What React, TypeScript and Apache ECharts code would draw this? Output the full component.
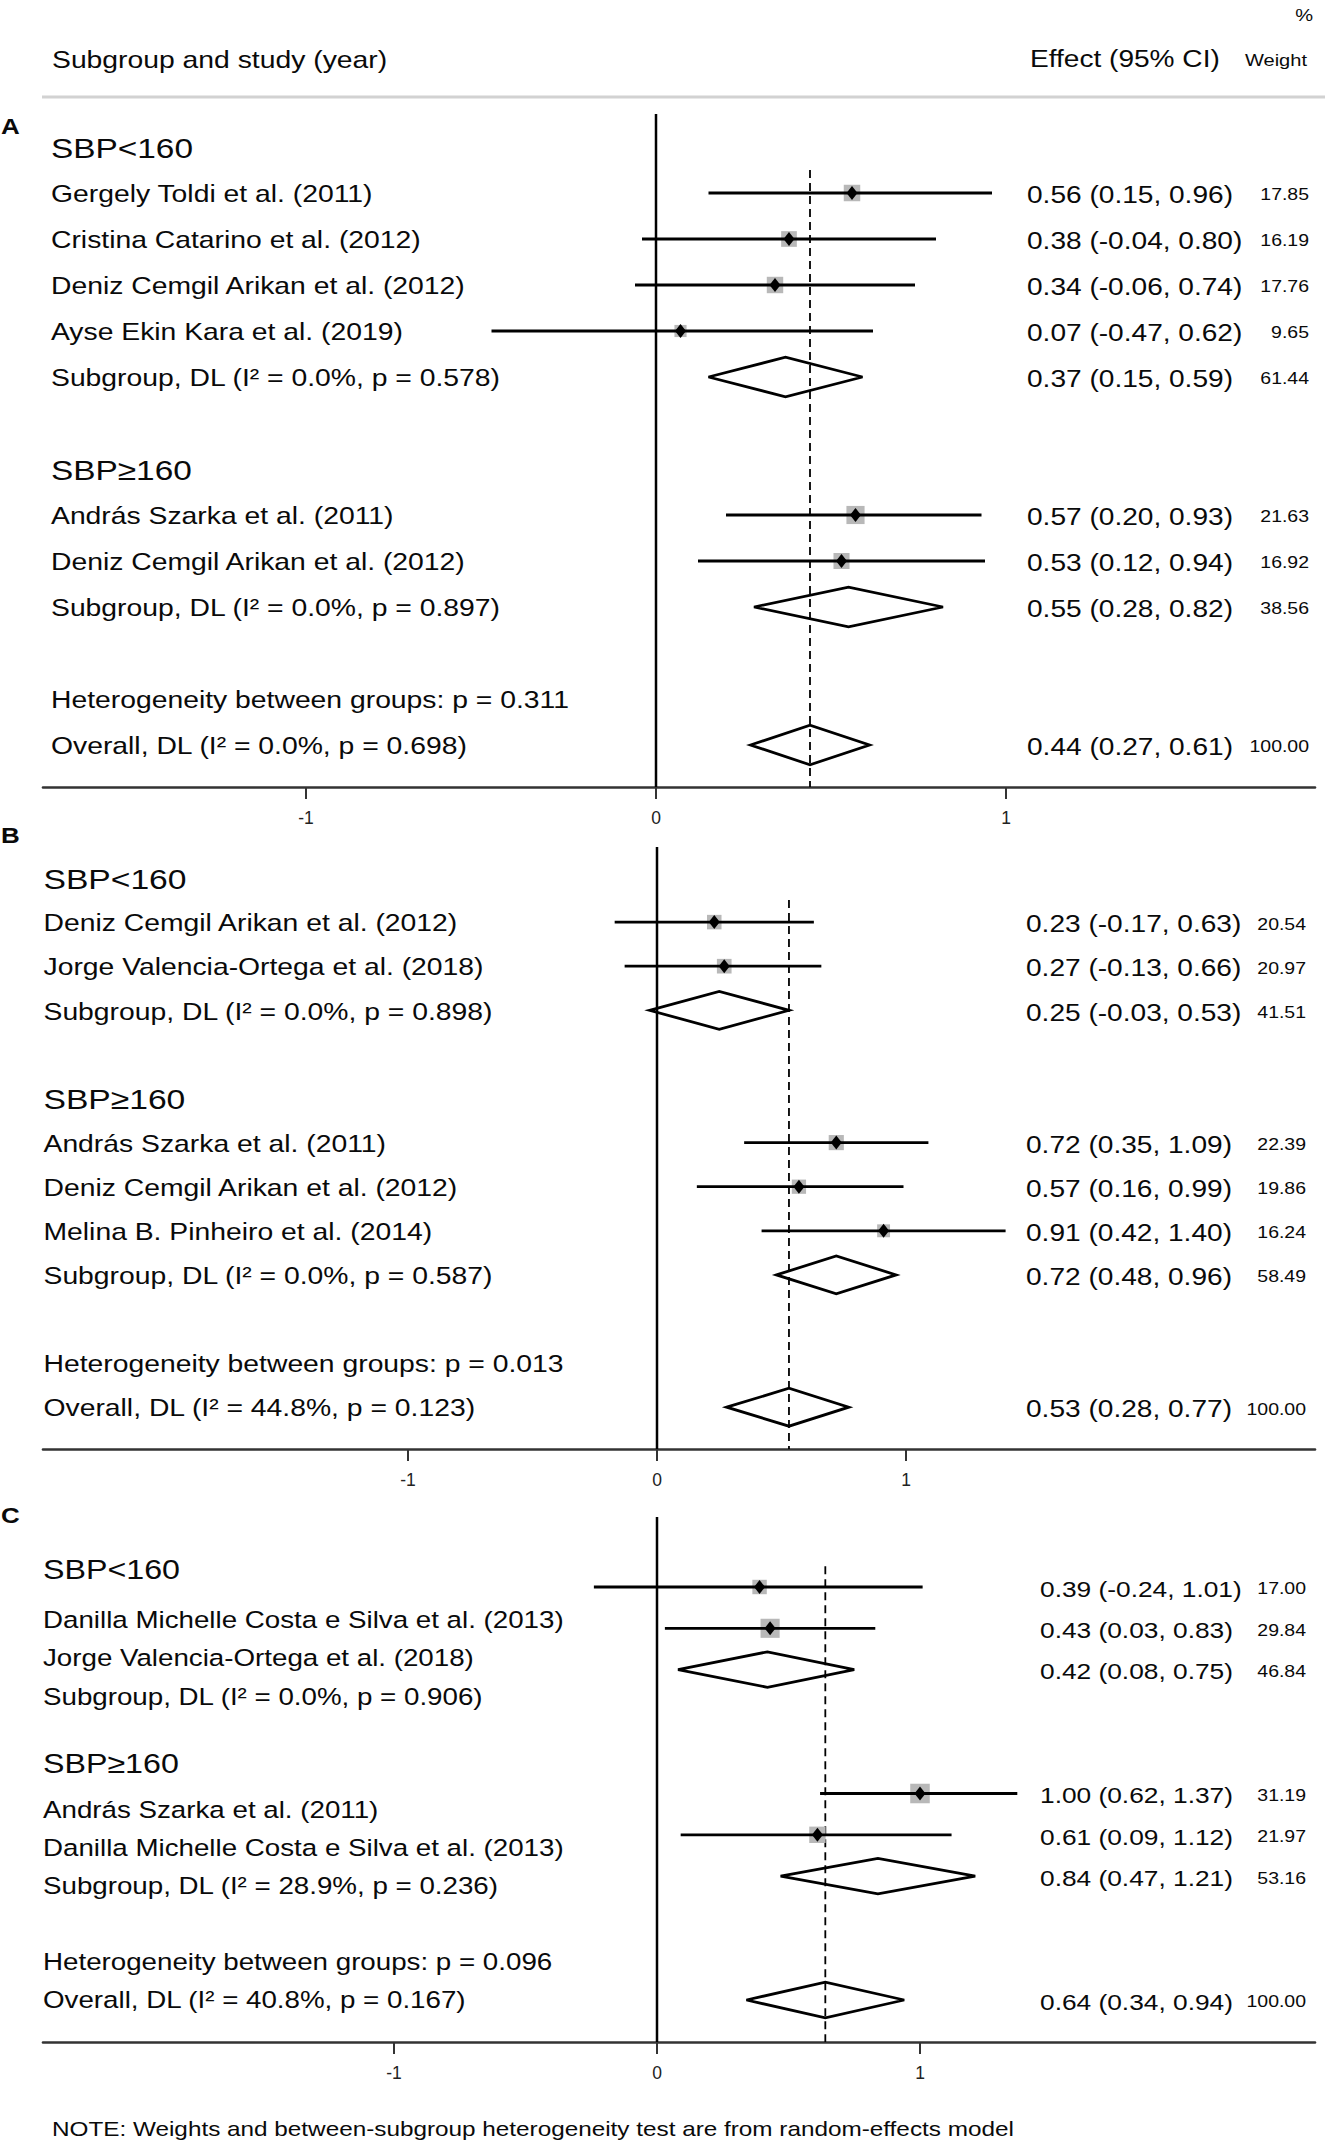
import React, { useEffect, useRef } from "react";
import * as echarts from "echarts";

// ---------------- DATA ----------------
const subgroupHeaders = ["SBP<160", "SBP≥160"];
const xTicks = [-1, 0, 1];

// Panel A
const studiesA1 = ["Gergely Toldi et al. (2011)", "Cristina Catarino et al. (2012)", "Deniz Cemgil Arikan et al. (2012)", "Ayse Ekin Kara et al. (2019)"];
const effectA1 = [0.56, 0.38, 0.34, 0.07];
const lowerA1 = [0.15, -0.04, -0.06, -0.47];
const upperA1 = [0.96, 0.8, 0.74, 0.62];
const weightA1 = [17.85, 16.19, 17.76, 9.65];
const studiesA2 = ["András Szarka et al. (2011)", "Deniz Cemgil Arikan et al. (2012)"];
const effectA2 = [0.57, 0.53];
const lowerA2 = [0.2, 0.12];
const upperA2 = [0.93, 0.94];
const weightA2 = [21.63, 16.92];
const pooledLabelsA = ["Subgroup, DL (I² = 0.0%, p = 0.578)", "Subgroup, DL (I² = 0.0%, p = 0.897)", "Overall, DL (I² = 0.0%, p = 0.698)"];
const pooledEffectA = [0.37, 0.55, 0.44];
const pooledLowerA = [0.15, 0.28, 0.27];
const pooledUpperA = [0.59, 0.82, 0.61];
const pooledWeightA = [61.44, 38.56, 100.0];
const heterogeneityA = "Heterogeneity between groups: p = 0.311";

// Panel B
const studiesB1 = ["Deniz Cemgil Arikan et al. (2012)", "Jorge Valencia-Ortega et al. (2018)"];
const effectB1 = [0.23, 0.27];
const lowerB1 = [-0.17, -0.13];
const upperB1 = [0.63, 0.66];
const weightB1 = [20.54, 20.97];
const studiesB2 = ["András Szarka et al. (2011)", "Deniz Cemgil Arikan et al. (2012)", "Melina B. Pinheiro et al. (2014)"];
const effectB2 = [0.72, 0.57, 0.91];
const lowerB2 = [0.35, 0.16, 0.42];
const upperB2 = [1.09, 0.99, 1.4];
const weightB2 = [22.39, 19.86, 16.24];
const pooledLabelsB = ["Subgroup, DL (I² = 0.0%, p = 0.898)", "Subgroup, DL (I² = 0.0%, p = 0.587)", "Overall, DL (I² = 44.8%, p = 0.123)"];
const pooledEffectB = [0.25, 0.72, 0.53];
const pooledLowerB = [-0.03, 0.48, 0.28];
const pooledUpperB = [0.53, 0.96, 0.77];
const pooledWeightB = [41.51, 58.49, 100.0];
const heterogeneityB = "Heterogeneity between groups: p = 0.013";

// Panel C
const studiesC1 = ["Danilla Michelle Costa e Silva et al. (2013)", "Jorge Valencia-Ortega et al. (2018)"];
const effectC1 = [0.39, 0.43];
const lowerC1 = [-0.24, 0.03];
const upperC1 = [1.01, 0.83];
const weightC1 = [17.0, 29.84];
const studiesC2 = ["András Szarka et al. (2011)", "Danilla Michelle Costa e Silva et al. (2013)"];
const effectC2 = [1.0, 0.61];
const lowerC2 = [0.62, 0.09];
const upperC2 = [1.37, 1.12];
const weightC2 = [31.19, 21.97];
const pooledLabelsC = ["Subgroup, DL (I² = 0.0%, p = 0.906)", "Subgroup, DL (I² = 28.9%, p = 0.236)", "Overall, DL (I² = 40.8%, p = 0.167)"];
const pooledEffectC = [0.42, 0.84, 0.64];
const pooledLowerC = [0.08, 0.47, 0.34];
const pooledUpperC = [0.75, 1.21, 0.94];
const pooledWeightC = [46.84, 53.16, 100.0];
const heterogeneityC = "Heterogeneity between groups: p = 0.096";

const noteText = "NOTE: Weights and between-subgroup heterogeneity test are from random-effects model";

// ---------------- LAYOUT / STYLE ----------------
const FONT = "'Liberation Sans', Arial, Helvetica, sans-serif";
const SX = 1.18; // horizontal stretch of the source figure's lettering
const INK = "#0a0a0a";
const GRID_LEFT = 43;
const GRID_RIGHT = 1315;
const LINE_W = 2.8;

const layouts = [
  { letter: "A", letterY: 126, top: 114, bottom: 787, rowY0: 147, rowStep: 46, zeroX: 656, unitX: 350, labelX: 51, labelFont: 24, headFont: 28.3, effX: 1027, effFont: 23.8, wX: 1309, boxK: 3.9, labelSlots: null as number[] | null },
  { letter: "B", letterY: 835, top: 847, bottom: 1449, rowY0: 878, rowStep: 44.1, zeroX: 657, unitX: 249, labelX: 43.5, labelFont: 24, headFont: 28.5, effX: 1026, effFont: 23.8, wX: 1306, boxK: 3.2, labelSlots: null as number[] | null },
  { letter: "C", letterY: 1515, top: 1517, bottom: 2042, rowY0: 1545.7, rowStep: 41.3, zeroX: 657, unitX: 263, labelX: 43, labelFont: 23.5, headFont: 27.3, effX: 1040, effFont: 22.3, wX: 1306, boxK: 3.5, labelSlots: [0.56, 1.77, 2.69, 3.64, 5.24, 6.38, 7.3, 8.22, 10.04, 10.98] as number[] | null },
];

const panelsData = [
  { s1: studiesA1, e1: effectA1, l1: lowerA1, u1: upperA1, w1: weightA1, s2: studiesA2, e2: effectA2, l2: lowerA2, u2: upperA2, w2: weightA2, pl: pooledLabelsA, pe: pooledEffectA, plo: pooledLowerA, pu: pooledUpperA, pw: pooledWeightA, het: heterogeneityA },
  { s1: studiesB1, e1: effectB1, l1: lowerB1, u1: upperB1, w1: weightB1, s2: studiesB2, e2: effectB2, l2: lowerB2, u2: upperB2, w2: weightB2, pl: pooledLabelsB, pe: pooledEffectB, plo: pooledLowerB, pu: pooledUpperB, pw: pooledWeightB, het: heterogeneityB },
  { s1: studiesC1, e1: effectC1, l1: lowerC1, u1: upperC1, w1: weightC1, s2: studiesC2, e2: effectC2, l2: lowerC2, u2: upperC2, w2: weightC2, pl: pooledLabelsC, pe: pooledEffectC, plo: pooledLowerC, pu: pooledUpperC, pw: pooledWeightC, het: heterogeneityC },
];

type Row = { kind: "header" | "study" | "pooled" | "het"; label: string; eff?: number; lo?: number; hi?: number; w?: number; slot: number };

function buildRows(d: any): Row[] {
  const rows: Row[] = [];
  let slot = 0;
  const groups = [
    { s: d.s1, e: d.e1, l: d.l1, u: d.u1, w: d.w1 },
    { s: d.s2, e: d.e2, l: d.l2, u: d.u2, w: d.w2 },
  ];
  groups.forEach((g, gi) => {
    rows.push({ kind: "header", label: subgroupHeaders[gi], slot: slot++ });
    g.s.forEach((name: string, i: number) => {
      rows.push({ kind: "study", label: name, eff: g.e[i], lo: g.l[i], hi: g.u[i], w: g.w[i], slot: slot++ });
    });
    rows.push({ kind: "pooled", label: d.pl[gi], eff: d.pe[gi], lo: d.plo[gi], hi: d.pu[gi], w: d.pw[gi], slot: slot++ });
    slot++; // blank line
  });
  rows.push({ kind: "het", label: d.het, slot: slot++ });
  rows.push({ kind: "pooled", label: d.pl[2], eff: d.pe[2], lo: d.plo[2], hi: d.pu[2], w: d.pw[2], slot: slot++ });
  return rows;
}

const f2 = (v: number) => v.toFixed(2);

function buildOption() {
  const grid: any[] = [];
  const xAxis: any[] = [];
  const yAxis: any[] = [];
  const series: any[] = [];

  layouts.forEach((L, pi) => {
    const d = panelsData[pi];
    const rows = buildRows(d);
    const overall = d.pe[2];

    grid.push({ left: GRID_LEFT, width: GRID_RIGHT - GRID_LEFT, top: L.top, height: L.bottom - L.top });
    xAxis.push({
      type: "value",
      gridIndex: pi,
      position: "bottom",
      min: (GRID_LEFT - L.zeroX) / L.unitX,
      max: (GRID_RIGHT - L.zeroX) / L.unitX,
      splitLine: { show: false },
      axisLine: { show: true, onZero: false, lineStyle: { color: "#333", width: 2.6 } },
      axisTick: { show: true, customValues: xTicks, length: 12, lineStyle: { color: "#333", width: 2 } },
      axisLabel: { show: true, customValues: xTicks, margin: 22, fontSize: 17.5, color: "#222", fontFamily: FONT, formatter: (v: number) => String(v) },
    });
    yAxis.push({
      type: "value",
      gridIndex: pi,
      inverse: true,
      min: (L.top - L.rowY0) / L.rowStep,
      max: (L.bottom - L.rowY0) / L.rowStep,
      show: false,
      splitLine: { show: false },
      axisLine: { onZero: false },
    });

    // reference lines: null line at 0 and dashed overall effect line
    series.push({
      type: "custom",
      xAxisIndex: pi,
      yAxisIndex: pi,
      clip: false,
      silent: true,
      data: [[0, 0], [overall, 1]],
      renderItem: (params: any, api: any) => {
        const v = api.value(0);
        const t = api.value(1);
        const cs = params.coordSys;
        const x = api.coord([v, 0.5])[0];
        if (t === 0) {
          return { type: "line", shape: { x1: x, y1: cs.y, x2: x, y2: cs.y + cs.height }, style: { stroke: "#000", lineWidth: 2.5 } };
        }
        const yStart = api.coord([v, 0.5])[1];
        return { type: "line", shape: { x1: x, y1: yStart, x2: x, y2: cs.y + cs.height }, style: { stroke: "#000", lineWidth: 1.8, lineDash: [8, 5] } };
      },
    });

    // forest marks
    const markRows = rows.filter((r) => r.kind === "study" || r.kind === "pooled");
    const boxK = L.boxK;
    const half = 0.43 * L.rowStep;
    series.push({
      type: "custom",
      xAxisIndex: pi,
      yAxisIndex: pi,
      clip: false,
      silent: true,
      data: markRows.map((r) => [r.eff, r.lo, r.hi, r.w, r.slot, r.kind === "pooled" ? 1 : 0]),
      renderItem: (params: any, api: any) => {
        const eff = api.value(0), lo = api.value(1), hi = api.value(2), w = api.value(3), slot = api.value(4), kind = api.value(5);
        const c = api.coord([eff, slot]);
        const l = api.coord([lo, slot]);
        const h = api.coord([hi, slot]);
        if (kind === 1) {
          return {
            type: "polygon",
            shape: { points: [[l[0], c[1]], [c[0], c[1] - half], [h[0], c[1]], [c[0], c[1] + half]] },
            style: { fill: "none", stroke: "#000", lineWidth: LINE_W, lineJoin: "miter" },
          };
        }
        const side = boxK * Math.sqrt(w);
        return {
          type: "group",
          children: [
            { type: "rect", shape: { x: c[0] - side / 2, y: c[1] - side / 2, width: side, height: side }, style: { fill: "#b8b8b8" } },
            { type: "line", shape: { x1: l[0], y1: c[1], x2: h[0], y2: c[1] }, style: { stroke: "#000", lineWidth: LINE_W } },
            { type: "polygon", shape: { points: [[c[0] - 5.5, c[1]], [c[0], c[1] - 7], [c[0] + 5.5, c[1]], [c[0], c[1] + 7]] }, style: { fill: "#000" } },
          ],
        };
      },
    });

    // left labels
    const labelSlots = L.labelSlots;
    series.push({
      type: "custom",
      xAxisIndex: pi,
      yAxisIndex: pi,
      clip: false,
      silent: true,
      data: rows.map((r, i) => [0, labelSlots ? labelSlots[i] : r.slot]),
      renderItem: (params: any, api: any) => {
        const r = rows[params.dataIndex];
        const y = api.coord([0, api.value(1)])[1];
        const isHeader = r.kind === "header";
        return {
          type: "text",
          x: L.labelX,
          y: y + 1,
          scaleX: SX,
          style: { text: r.label, fill: INK, fontSize: isHeader ? L.headFont : L.labelFont, fontFamily: FONT, align: "left", verticalAlign: "middle" },
        };
      },
    });

    // right column: effect (95% CI) and weight
    series.push({
      type: "custom",
      xAxisIndex: pi,
      yAxisIndex: pi,
      clip: false,
      silent: true,
      data: markRows.map((r) => [r.eff, r.lo, r.hi, r.w, r.slot]),
      renderItem: (params: any, api: any) => {
        const eff = api.value(0), lo = api.value(1), hi = api.value(2), w = api.value(3), slot = api.value(4);
        const y = api.coord([0, slot])[1];
        return {
          type: "group",
          children: [
            { type: "text", x: L.effX, y: y + 2, scaleX: SX, style: { text: `${f2(eff)} (${f2(lo)}, ${f2(hi)})`, fill: INK, fontSize: L.effFont, fontFamily: FONT, align: "left", verticalAlign: "middle" } },
            { type: "text", x: L.wX, y: y + 2, scaleX: SX, style: { text: f2(w), fill: INK, fontSize: 16.5, fontFamily: FONT, align: "right", verticalAlign: "middle" } },
          ],
        };
      },
    });
  });

  const gtext = (x: number, y: number, text: string, size: number, align = "left", weight = "normal") => ({
    type: "text",
    x,
    y,
    scaleX: SX,
    silent: true,
    style: { text, fill: INK, fontSize: size, fontFamily: FONT, fontWeight: weight, align, verticalAlign: "middle" },
  });

  const graphic: any[] = [
    gtext(1313, 15, "%", 17, "right"),
    gtext(52, 60, "Subgroup and study (year)", 24),
    gtext(1030, 59, "Effect (95% CI)", 23.8),
    gtext(1307, 60, "Weight", 17, "right"),
    { type: "line", silent: true, shape: { x1: 42, y1: 97, x2: 1325, y2: 97 }, style: { stroke: "#d2d2d2", lineWidth: 3 } },
    ...layouts.map((L) => gtext(1, L.letterY, L.letter, 22, "left", "bold")),
    gtext(52, 2129, noteText, 20.6),
  ];

  return {
    animation: false,
    backgroundColor: "#ffffff",
    grid,
    xAxis,
    yAxis,
    series,
    graphic,
  };
}

export default function App() {
  const ref = useRef<HTMLDivElement>(null);
  useEffect(() => {
    if (!ref.current) return;
    const chart = echarts.init(ref.current, undefined, { renderer: "svg" });
    chart.setOption(buildOption() as any);
    return () => chart.dispose();
  }, []);
  return <div ref={ref} style={{ position: "absolute", left: 0, top: 0, width: 1330, height: 2148, background: "#fff" }} />;
}
